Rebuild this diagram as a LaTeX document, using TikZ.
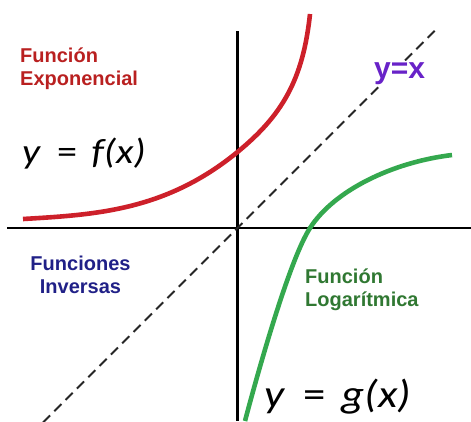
\documentclass[tikz,border=0pt]{standalone}
\usepackage{fontspec}
\setmainfont{Liberation Sans}
\newfontfamily\eqfont{Carlito}
\definecolor{curvered}{RGB}{205,32,42}
\definecolor{curvegreen}{RGB}{52,168,78}
\definecolor{textred}{RGB}{185,32,32}
\definecolor{textgreen}{RGB}{48,120,50}
\definecolor{textblue}{RGB}{32,32,135}
\definecolor{textpurple}{RGB}{104,34,200}
\tikzset{
  axisline/.style={line width=2.4pt, black},
  idline/.style={line width=2pt, dash pattern=on 10pt off 6pt, black!85},
  expcurve/.style={line width=4.6pt, curvered},
  logcurve/.style={line width=4.6pt, curvegreen},
  lbl/.style={inner sep=0pt, font=\fontsize{20}{23}\selectfont\bfseries},
  eqn/.style={inner sep=0pt, anchor=base west},
}
\begin{document}
\begin{tikzpicture}[x=1pt,y=-1pt]
\useasboundingbox (0,0) rectangle (471,421);
\clip (0,0) rectangle (471,421);
% axes
\coordinate (ytop) at (237.5,31);
\coordinate (ybot) at (237.5,421);
\coordinate (xl) at (7,228);
\coordinate (xr) at (471,228);
\coordinate (o) at (237.5,228);
\coordinate (dl) at (43,422.5);
\coordinate (dr) at (438,27.5);
\draw[axisline] (ytop) -- (ybot);
\draw[axisline] (xl) -- (xr);
% y = x
\draw[idline] (dl) -- (dr);
% exponential
\coordinate (e0) at (23,219);
\coordinate (e1) at (237.5,152);
\coordinate (e2) at (310,14);
\draw[expcurve] (e0) .. controls (95,214.7) and (165.5,211) .. (e1)
                     .. controls (282,115.5) and (303,80) .. (e2);
% logarithm
\coordinate (g0) at (245,421);
\coordinate (g1) at (310,228);
\coordinate (g2) at (452,155);
\draw[logcurve] (g0) .. controls (255.2,382.3) and (288.4,261.4) .. (g1)
                     .. controls (334.3,190.2) and (392.6,162.2) .. (g2);
% labels
\node[lbl, text=textred, anchor=base west] (fe1) at (20,62) {Función};
\node[lbl, text=textred, anchor=base west] (fe2) at (20,85) {Exponencial};
\node[lbl, text=textblue, anchor=base] (fi1) at (80.5,270) {Funciones};
\node[lbl, text=textblue, anchor=base] (fi2) at (80.5,293) {Inversas};
\node[lbl, text=textgreen, anchor=base west] (fl1) at (305,283) {Función};
\node[lbl, text=textgreen, anchor=base west] (fl2) at (305,306) {Logarítmica};
\node[inner sep=1.5pt, fill=white, anchor=base west, text=textpurple, font=\fontsize{30}{30}\selectfont\bfseries] (yx) at (372.5,78) {y=x};
\node[eqn, font=\eqfont\fontsize{35}{35}\selectfont] (feq) at (22,163) {\scalebox{1.15}[1]{\itshape y\hspace{0.42em}\upshape=\hspace{0.36em}\itshape f(x)}};
\node[eqn, font=\eqfont\fontsize{39}{39}\selectfont] (geq) at (264,407) {\scalebox{1.15}[1]{\itshape y\hspace{0.42em}\upshape=\hspace{0.36em}\itshape g(x)}};
\end{tikzpicture}
\end{document}
